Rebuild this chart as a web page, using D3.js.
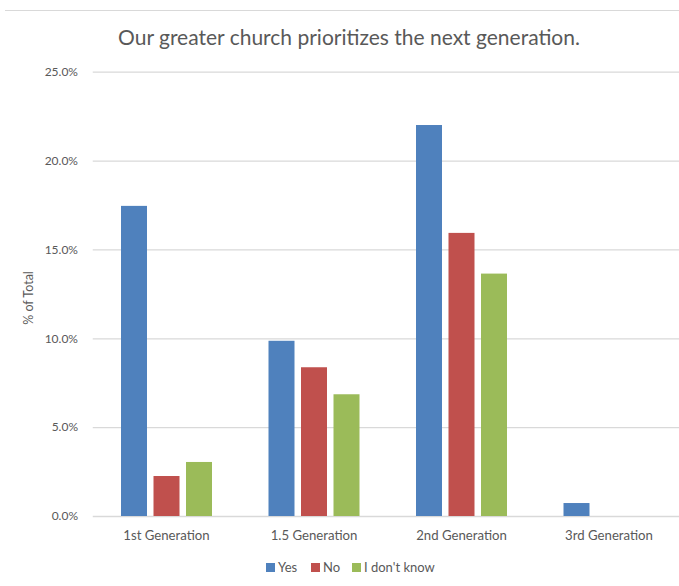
<!DOCTYPE html>
<html>
<head>
<meta charset="utf-8">
<script src="https://cdn.jsdelivr.net/npm/d3@7"></script>
<style>
  html, body { margin: 0; padding: 0; background: #fff; }
  svg { display: block; }
  text { font-family: Lato, "Open Sans", sans-serif; fill: #595959; }
</style>
</head>
<body>
<svg id="chart" width="679" height="586"></svg>
<script>
// Survey responses by generation, as share of all respondents (%)
const categories = ["1st Generation", "1.5 Generation", "2nd Generation", "3rd Generation"];
const seriesNames = ["Yes", "No", "I don't know"];
const yesValues = [17.45, 9.86, 22.0, 0.73];
const noValues = [2.25, 8.37, 15.93, 0];
const dontKnowValues = [3.04, 6.85, 13.64, 0];
const yTicks = [0, 5, 10, 15, 20, 25];
const seriesColors = ["#4F81BD", "#C0504D", "#9BBB59"];

const seriesValues = [yesValues, noValues, dontKnowValues];
const rows = categories.map((c, i) => ({
  category: c,
  values: seriesNames.map((s, j) => ({ series: s, value: seriesValues[j][i] }))
}));

const svg = d3.select("#chart");
const plot = { left: 92.75, right: 682.75, top: 71.7, bottom: 516 };

const x0 = d3.scaleBand().domain(categories).range([plot.left, plot.right]).padding(0);
const groupPad = 28.25;
const x1 = d3.scaleBand().domain(seriesNames)
  .range([groupPad, x0.bandwidth() - groupPad])
  .paddingInner(0.2).paddingOuter(0);
const y = d3.scaleLinear().domain([0, 25]).range([plot.bottom, plot.top]);

// outer frame line along the top
svg.append("line")
  .attr("x1", 5).attr("x2", 679).attr("y1", 10.5).attr("y2", 10.5)
  .attr("stroke", "#d9d9d9").attr("stroke-width", 1);

// title
svg.append("text")
  .attr("x", 349).attr("y", 45)
  .attr("text-anchor", "middle")
  .style("font-size", "21px")
  .text("Our greater church prioritizes the next generation.");

// horizontal gridlines + y tick labels
const yAxis = d3.axisLeft(y).tickValues(yTicks)
  .tickSize(-(plot.right - plot.left))
  .tickPadding(14)
  .tickFormat(d => d.toFixed(1) + "%");
const gy = svg.append("g")
  .attr("transform", `translate(${plot.left},0)`)
  .call(yAxis);
gy.select(".domain").remove();
gy.selectAll(".tick line").attr("stroke", "#d9d9d9").attr("stroke-width", 1.3);
gy.selectAll(".tick text")
  .attr("x", 78 - plot.left)
  .style("font-size", "12px").style("fill", "#595959");

// y axis title
svg.append("text")
  .attr("transform", "translate(33,298) rotate(-90)")
  .attr("text-anchor", "middle")
  .style("font-size", "12.5px")
  .text("% of Total");

// bars
const groups = svg.append("g").selectAll("g")
  .data(rows).join("g")
  .attr("transform", d => `translate(${x0(d.category)},0)`);
groups.selectAll("rect")
  .data(d => d.values.filter(v => v.value > 0))
  .join("rect")
  .attr("x", d => x1(d.series))
  .attr("width", x1.bandwidth())
  .attr("y", d => y(d.value))
  .attr("height", d => y(0) - y(d.value))
  .attr("fill", d => seriesColors[seriesNames.indexOf(d.series)]);

// category axis labels
const xAxis = d3.axisBottom(x0).tickSize(0).tickPadding(15);
const gx = svg.append("g")
  .attr("transform", `translate(0,${plot.bottom})`)
  .call(xAxis);
gx.select(".domain").remove();
gx.selectAll(".tick text")
  .style("font-size", "13.2px").style("fill", "#595959");

// legend
const legendItems = [
  { name: "Yes", x: 266 },
  { name: "No", x: 311 },
  { name: "I don't know", x: 352 }
];
const legend = svg.append("g");
legendItems.forEach((d, i) => {
  legend.append("rect")
    .attr("x", d.x).attr("y", 563).attr("width", 9).attr("height", 9)
    .attr("fill", seriesColors[i]);
  legend.append("text")
    .attr("x", d.x + 12).attr("y", 572)
    .style("font-size", "13px")
    .text(d.name);
});
</script>
</body>
</html>
